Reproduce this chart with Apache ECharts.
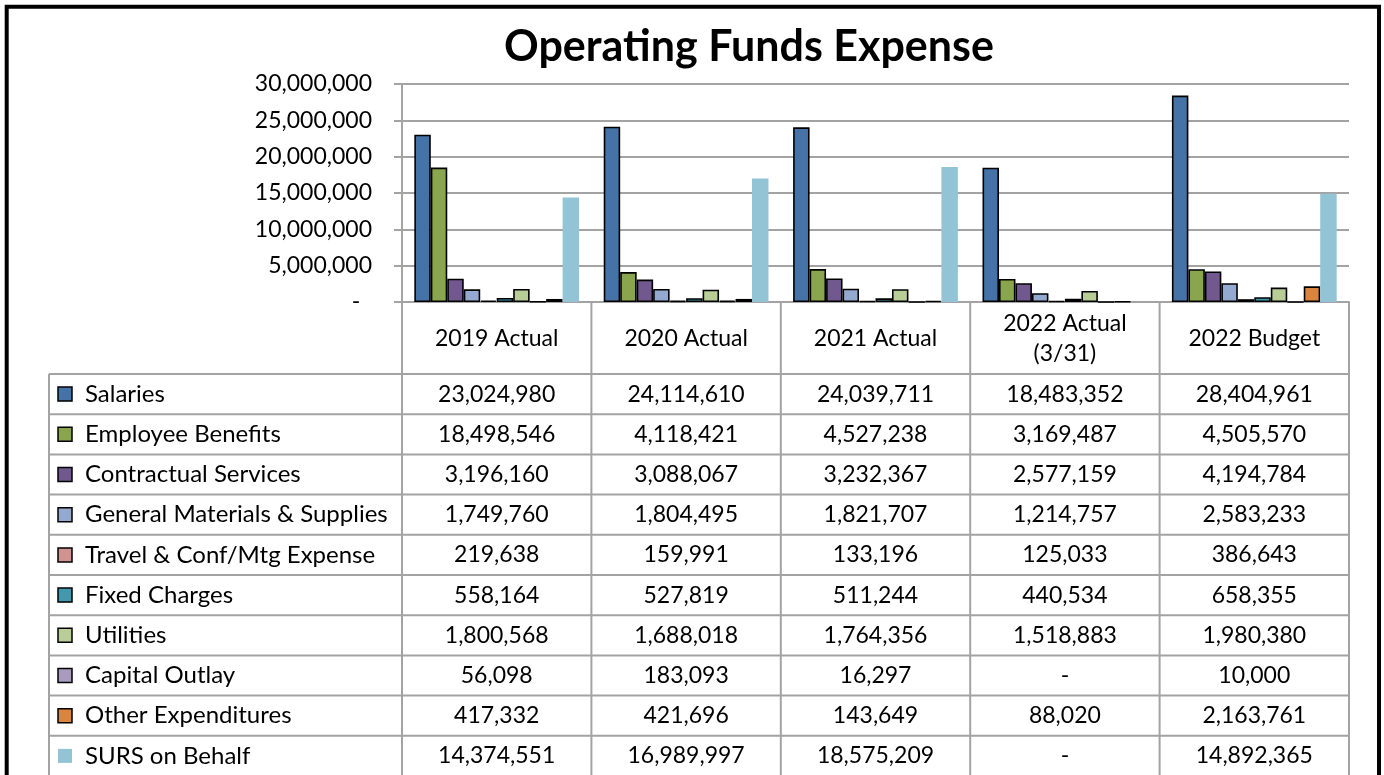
<!doctype html>
<html>
<head>
    <meta http-equiv="Content-Type" content="text/html; charset=utf-8">
    <title>Operating Funds Expense</title>
    <script src="https://cdn.jsdelivr.net/npm/echarts@6/dist/echarts.min.js"></script>
    <style>
        html, body { margin: 0; padding: 0; background: #fff; }
        #main { width: 1384px; height: 775px; }
    </style>
</head>
<body>
<div id="main"></div>
<script type="text/javascript">

    var categories = ['2019 Actual', '2020 Actual', '2021 Actual', '2022 Actual\n(3/31)', '2022 Budget'];
    var seriesNames = ['Salaries', 'Employee Benefits', 'Contractual Services', 'General Materials & Supplies',
        'Travel & Conf/Mtg Expense', 'Fixed Charges', 'Utilities', 'Capital Outlay', 'Other Expenditures', 'SURS on Behalf'];

    var salaries     = [23024980, 24114610, 24039711, 18483352, 28404961];
    var benefits     = [18498546, 4118421, 4527238, 3169487, 4505570];
    var contractual  = [3196160, 3088067, 3232367, 2577159, 4194784];
    var materials    = [1749760, 1804495, 1821707, 1214757, 2583233];
    var travel       = [219638, 159991, 133196, 125033, 386643];
    var fixedCharges = [558164, 527819, 511244, 440534, 658355];
    var utilities    = [1800568, 1688018, 1764356, 1518883, 1980380];
    var capital      = [56098, 183093, 16297, 0, 10000];
    var other        = [417332, 421696, 143649, 88020, 2163761];
    var surs         = [14374551, 16989997, 18575209, 0, 14892365];

    var yTicks = [0, 5000000, 10000000, 15000000, 20000000, 25000000, 30000000];

    var values = [salaries, benefits, contractual, materials, travel, fixedCharges, utilities, capital, other, surs];
    var colors = ['#4572A7', '#89A54E', '#71588F', '#93A9CF', '#D19392', '#4198AF', '#B9CD96', '#A99BBD', '#DB843D', '#93C4D6'];

    var FONT = 'Lato';
    var gridLeft = 402, gridRight = 1349, gridTop = 84, gridBottom = 302;
    var colW = (gridRight - gridLeft) / categories.length;
    var rowTop = 374, rowH = 40.2, tableLeft = 49, tableBottom = 776;
    var lineColor = '#a3a3a3';

    function fmt(v) {
        return v === 0 ? '-' : v.toLocaleString('en-US');
    }

    var series = [];
    for (var i = 0; i < seriesNames.length; i++) {
        var last = i === seriesNames.length - 1;
        series.push({
            name: seriesNames[i],
            type: 'bar',
            data: values[i],
            barGap: '0%',
            barCategoryGap: '13%',
            itemStyle: {
                color: colors[i],
                borderColor: last ? colors[i] : '#000',
                borderWidth: last ? 0 : 1.6
            },
            emphasis: { disabled: true }
        });
    }

    // data table under the plot
    var graphic = [];
    graphic.push({
        type: 'rect', silent: true,
        shape: { x: 6.7, y: 6.7, width: 1372.3, height: 820 },
        style: { fill: 'none', stroke: '#000', lineWidth: 4 }
    });
    for (var c = 0; c <= categories.length; c++) {
        var x = gridLeft + c * colW;
        graphic.push({
            type: 'line', silent: true,
            shape: { x1: x, y1: gridBottom, x2: x, y2: tableBottom },
            style: { stroke: lineColor, lineWidth: 2 }
        });
    }
    graphic.push({
        type: 'line', silent: true,
        shape: { x1: tableLeft, y1: rowTop, x2: tableLeft, y2: tableBottom },
        style: { stroke: lineColor, lineWidth: 2 }
    });
    for (var r = 0; r <= seriesNames.length; r++) {
        var y = rowTop + r * rowH;
        graphic.push({
            type: 'line', silent: true,
            shape: { x1: tableLeft, y1: y, x2: gridRight, y2: y },
            style: { stroke: lineColor, lineWidth: 2 }
        });
    }
    for (var c2 = 0; c2 < categories.length; c2++) {
        graphic.push({
            type: 'text', silent: true,
            x: gridLeft + (c2 + 0.5) * colW, y: (gridBottom + rowTop) / 2 + 1,
            style: {
                text: categories[c2], fill: '#000', font: '23px ' + FONT,
                align: 'center', verticalAlign: 'middle', lineHeight: 30
            }
        });
    }
    for (var s = 0; s < seriesNames.length; s++) {
        var cy = rowTop + (s + 0.5) * rowH;
        var isSurs = s === seriesNames.length - 1;
        graphic.push({
            type: 'rect', silent: true,
            shape: { x: 58, y: cy - 7, width: 14, height: 14 },
            style: { fill: colors[s], stroke: isSurs ? null : '#000', lineWidth: 1.5 }
        });
        graphic.push({
            type: 'text', silent: true,
            x: 85, y: cy,
            style: { text: seriesNames[s], fill: '#000', font: '24px ' + FONT, align: 'left', verticalAlign: 'middle' }
        });
        for (var k = 0; k < categories.length; k++) {
            graphic.push({
                type: 'text', silent: true,
                x: gridLeft + (k + 0.5) * colW, y: cy,
                style: { text: fmt(values[s][k]), fill: '#000', font: '23px ' + FONT, align: 'center', verticalAlign: 'middle' }
            });
        }
    }

    var myChart = echarts.init(document.getElementById('main'));
    var option = {
        backgroundColor: '#fff',
        animation: false,
        title: {
            text: 'Operating Funds Expense',
            left: 744, top: 21, textAlign: 'center',
            textStyle: { fontFamily: FONT, fontWeight: 'bold', fontSize: 43, color: '#000' }
        },
        grid: { left: gridLeft, top: gridTop, width: gridRight - gridLeft, height: gridBottom - gridTop, containLabel: false },
        xAxis: {
            type: 'category',
            data: categories,
            axisLine: { show: true, lineStyle: { color: lineColor, width: 2 } },
            axisTick: { show: false },
            axisLabel: { show: false }
        },
        yAxis: {
            type: 'value',
            min: yTicks[0], max: yTicks[yTicks.length - 1], interval: yTicks[1] - yTicks[0],
            axisLine: { show: true, lineStyle: { color: lineColor, width: 2 } },
            axisTick: { show: true, length: 8, lineStyle: { color: lineColor, width: 2 } },
            splitLine: { lineStyle: { color: lineColor, width: 2 } },
            axisLabel: {
                margin: 30, color: '#000', fontFamily: FONT, fontSize: 23,
                formatter: function (v) { return v === 0 ? '-  ' : fmt(v); }
            }
        },
        series: series,
        graphic: graphic
    };
    myChart.setOption(option);

</script>
</body>
</html>
